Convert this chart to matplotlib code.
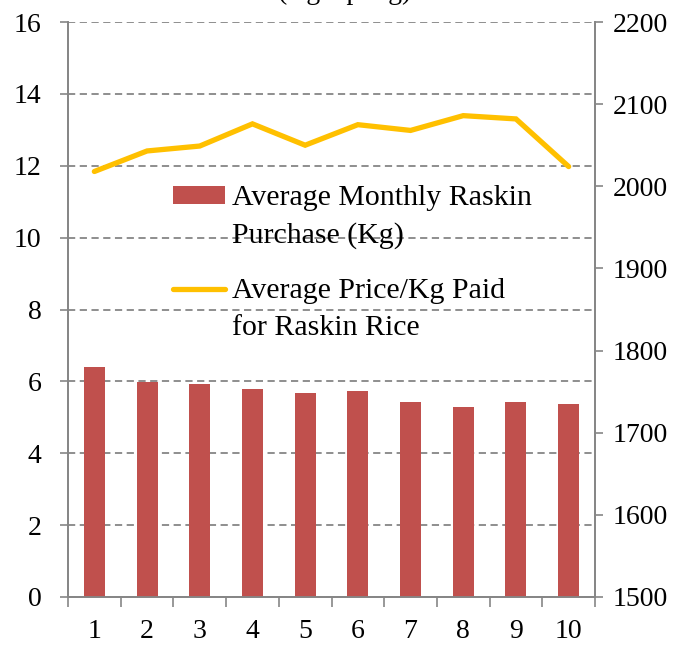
import matplotlib.pyplot as plt
from matplotlib.ticker import FixedLocator, NullFormatter
from matplotlib.lines import Line2D

plt.rcParams['font.family'] = ['Liberation Serif', 'DejaVu Serif']

deciles = [1, 2, 3, 4, 5, 6, 7, 8, 9, 10]
purchase_kg = [6.40, 5.97, 5.93, 5.78, 5.68, 5.74, 5.42, 5.28, 5.42, 5.37]
price_per_kg = [2018, 2043, 2049, 2076, 2050, 2075, 2068, 2086, 2082, 2024]

bar_label = ["Average Monthly Raskin", "Purchase (Kg)"]
line_label = ["Average Price/Kg Paid", "for Raskin Rice"]

grey = "#868686"

fig = plt.figure(figsize=(6.85, 6.46), dpi=100)
ax = fig.add_axes([68 / 685, 49 / 646, 527 / 685, 575 / 646])
ax2 = ax.twinx()

bars = ax.bar(deciles, purchase_kg, width=0.4, color="#C0504D", zorder=3)
line, = ax2.plot(deciles, price_per_kg, color="#FFC000", lw=3.8,
                 solid_capstyle="round", solid_joinstyle="miter")

ax.set_xlim(0.5, 10.5)
ax.set_ylim(0, 16)
ax2.set_ylim(1500, 2200)
ax.set_yticks(range(0, 17, 2))
ax2.set_yticks(range(1500, 2201, 100))

# category boundaries carry the ticks, labels sit in the middle
ax.set_xticks(deciles)
ax.tick_params(axis="x", length=0)
ax.xaxis.set_minor_locator(FixedLocator([i + 0.5 for i in range(0, 11)]))
ax.xaxis.set_minor_formatter(NullFormatter())
ax.tick_params(axis="x", which="minor", length=7, width=1.2, color=grey,
               direction="out")

ax.tick_params(axis="y", length=6, width=1.2, color=grey, labelsize=20, pad=13)
ax2.tick_params(axis="y", length=6, width=1.2, color=grey, labelsize=20, pad=7)
ax.tick_params(axis="x", labelsize=20, pad=16)

for a in (ax, ax2):
    a.spines["top"].set_visible(False)
    for s in ("left", "right", "bottom"):
        a.spines[s].set_color(grey)
        a.spines[s].set_linewidth(1.3)

ax.yaxis.grid(True, color=grey, linestyle=(0, (4, 2.5)), linewidth=1.3, zorder=0)
ax.set_axisbelow(True)

# legend: handle next to the first line of each two-line label
blank = Line2D([], [], alpha=0)
leg_kw = dict(loc="upper left", frameon=False, fontsize=21.5, handlelength=1.74,
              handletextpad=0.23, labelspacing=0.36, borderpad=0,
              borderaxespad=0, handleheight=0.55)
top = 0.716
leg1 = ax2.legend([bars, blank], bar_label, bbox_to_anchor=(0.199, top), **leg_kw)
ax2.add_artist(leg1)
ax2.legend([line, blank], line_label, bbox_to_anchor=(0.199, top - 93 / 575), **leg_kw)

fig.text(0.504, 1 + 1 / 646, "(Kg/Rp/Kg)", ha="center", va="baseline",
         fontsize=20)

fig.savefig("out.png", dpi=100)
